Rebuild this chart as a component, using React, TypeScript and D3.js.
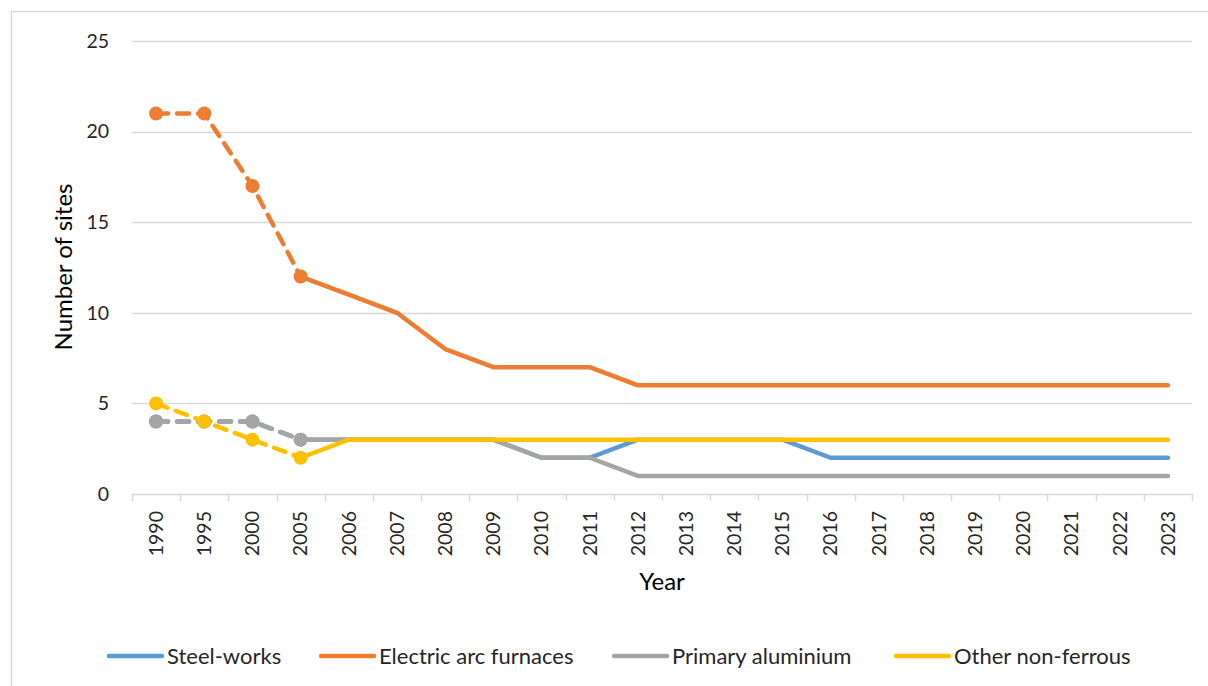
import React, { useEffect, useRef } from "react";
import * as d3 from "d3";

const width = 1208;
const height = 686;
const margin = { top: 41, right: 16, bottom: 192, left: 132 };

const years = ["1990", "1995", "2000", "2005", "2006", "2007", "2008", "2009", "2010", "2011", "2012", "2013", "2014", "2015", "2016", "2017", "2018", "2019", "2020", "2021", "2022", "2023"];
const steelWorks = [4, 4, 4, 3, 3, 3, 3, 3, 2, 2, 3, 3, 3, 3, 2, 2, 2, 2, 2, 2, 2, 2];
const electricArc = [21, 21, 17, 12, 11, 10, 8, 7, 7, 7, 6, 6, 6, 6, 6, 6, 6, 6, 6, 6, 6, 6];
const primaryAluminium = [4, 4, 4, 3, 3, 3, 3, 3, 2, 2, 1, 1, 1, 1, 1, 1, 1, 1, 1, 1, 1, 1];
const otherNonFerrous = [5, 4, 3, 2, 3, 3, 3, 3, 3, 3, 3, 3, 3, 3, 3, 3, 3, 3, 3, 3, 3, 3];
const yTicks = [0, 5, 10, 15, 20, 25];
// first four years are the 5-year estimates, drawn dashed with markers
const dashedCount = 4;

const series = [
  { name: "Steel-works", values: steelWorks, color: "#5b9bd5" },
  { name: "Electric arc furnaces", values: electricArc, color: "#ed7d31" },
  { name: "Primary aluminium", values: primaryAluminium, color: "#a5a5a5" },
  { name: "Other non-ferrous", values: otherNonFerrous, color: "#ffc000" },
];

const font = "Lato, 'Open Sans', sans-serif";

export default function App() {
  const ref = useRef<SVGSVGElement>(null);

  useEffect(() => {
    const svg = d3.select(ref.current);
    svg.selectAll("*").remove();

    svg
      .append("rect")
      .attr("x", 11.5)
      .attr("y", 11.5)
      .attr("width", width)
      .attr("height", height)
      .attr("fill", "#fff")
      .attr("stroke", "#d9d9d9")
      .attr("stroke-width", 1.5);

    const x = d3
      .scaleBand()
      .domain(years)
      .range([margin.left, width - margin.right]);

    const y = d3
      .scaleLinear()
      .domain([0, 25])
      .range([height - margin.bottom, margin.top]);

    // gridlines
    svg
      .append("g")
      .selectAll("line")
      .data(yTicks)
      .join("line")
      .attr("x1", margin.left)
      .attr("x2", width - margin.right)
      .attr("y1", d => Math.round(y(d)) + 0.5)
      .attr("y2", d => Math.round(y(d)) + 0.5)
      .attr("stroke", "#d9d9d9")
      .attr("stroke-width", 1.5);

    // y labels
    svg
      .append("g")
      .selectAll("text")
      .data(yTicks)
      .join("text")
      .attr("x", 109)
      .attr("y", d => y(d))
      .attr("dy", "0.35em")
      .attr("text-anchor", "end")
      .attr("font-family", font)
      .attr("font-size", 19.5)
      .attr("fill", "#262626")
      .text(d => d);

    // x tick marks at category boundaries
    const bounds = years.map(d => x(d)!).concat([width - margin.right]);
    svg
      .append("g")
      .selectAll("line")
      .data(bounds)
      .join("line")
      .attr("x1", d => Math.round(d) + 0.5)
      .attr("x2", d => Math.round(d) + 0.5)
      .attr("y1", y(0))
      .attr("y2", y(0) + 7)
      .attr("stroke", "#d9d9d9")
      .attr("stroke-width", 1.5);

    svg
      .append("g")
      .selectAll("text")
      .data(years)
      .join("text")
      .attr("transform", d => `translate(${x(d)! + x.bandwidth() / 2},511) rotate(-90)`)
      .attr("dy", "0.35em")
      .attr("text-anchor", "end")
      .attr("font-family", font)
      .attr("font-size", 19.5)
      .attr("fill", "#262626")
      .text(d => d);

    svg
      .append("text")
      .attr("x", 662)
      .attr("y", 590)
      .attr("text-anchor", "middle")
      .attr("font-family", font)
      .attr("font-size", 24)
      .attr("fill", "#000")
      .text("Year");

    svg
      .append("text")
      .attr("transform", `translate(72,267) rotate(-90)`)
      .attr("text-anchor", "middle")
      .attr("font-family", font)
      .attr("font-size", 24)
      .attr("fill", "#000")
      .text("Number of sites");

    const cx = (i: number) => x(years[i])! + x.bandwidth() / 2;

    series.forEach(s => {
      const g = svg.append("g");
      const pts = s.values.map((v, i) => [cx(i), y(v)] as [number, number]);
      g.append("path")
        .attr("d", d3.line()(pts.slice(0, dashedCount)))
        .attr("fill", "none")
        .attr("stroke", s.color)
        .attr("stroke-width", 4.5)
        .attr("stroke-dasharray", "12 9")
        .attr("stroke-linecap", "round")
        .attr("stroke-linejoin", "round");
      g.append("path")
        .attr("d", d3.line()(pts.slice(dashedCount - 1)))
        .attr("fill", "none")
        .attr("stroke", s.color)
        .attr("stroke-width", 4.5)
        .attr("stroke-linecap", "round")
        .attr("stroke-linejoin", "round");
      g.selectAll("circle")
        .data(pts.slice(0, dashedCount))
        .join("circle")
        .attr("cx", d => d[0])
        .attr("cy", d => d[1])
        .attr("r", 7)
        .attr("fill", s.color);
    });

    // legend
    const legendX = [108, 320, 613, 895];
    const lg = svg
      .append("g")
      .selectAll("g")
      .data(series)
      .join("g")
      .attr("transform", (d, i) => `translate(${legendX[i]},656)`);
    lg.append("line")
      .attr("x1", 1)
      .attr("x2", 54)
      .attr("stroke", d => d.color)
      .attr("stroke-width", 4.5)
      .attr("stroke-linecap", "round");
    lg.append("text")
      .attr("x", 59)
      .attr("dy", "0.35em")
      .attr("font-family", font)
      .attr("font-size", 22)
      .attr("fill", "#262626")
      .text(d => d.name);
  }, []);

  return (
    <svg
      ref={ref}
      width={width}
      height={height}
      style={{ position: "absolute", left: 0, top: 0, background: "#fff" }}
    />
  );
}
